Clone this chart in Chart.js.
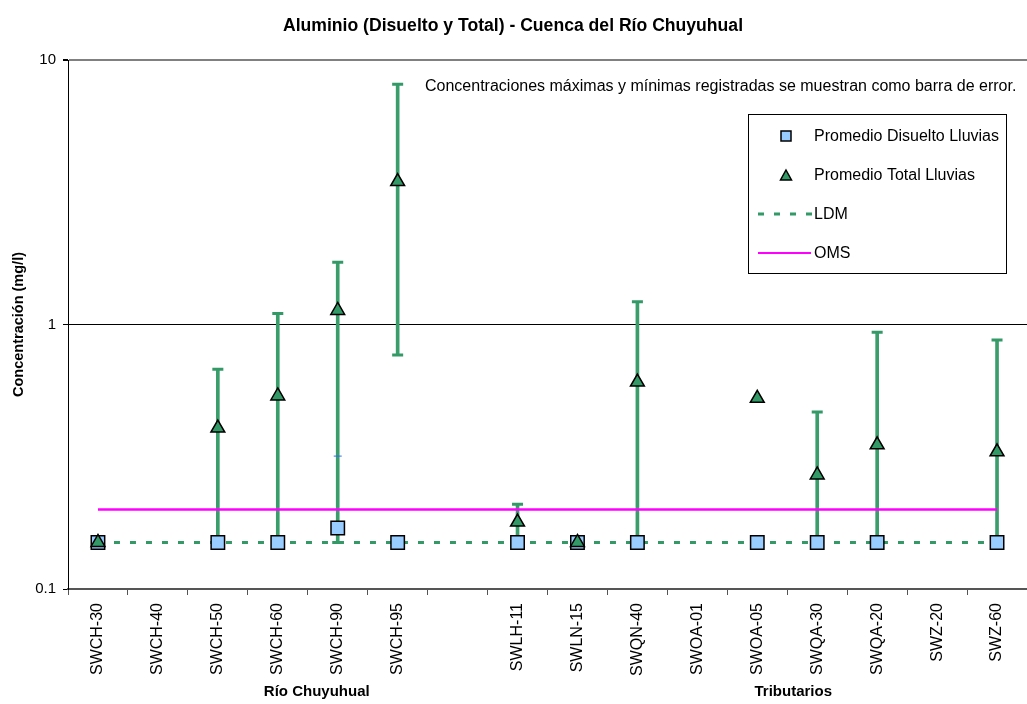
<!DOCTYPE html>
<html>
<head>
<meta charset="utf-8">
<script src="https://cdn.jsdelivr.net/npm/chart.js@4.4.0/dist/chart.umd.min.js"></script>
<style>
  html, body { margin: 0; padding: 0; background: #fff; }
  #wrap { width: 1027px; height: 704px; }
</style>
</head>
<body>
<div id="wrap"><canvas id="chart" width="1027" height="704"></canvas></div>
<script>
// stations (blank slot separates the two groups)
const categories = ['SWCH-30', 'SWCH-40', 'SWCH-50', 'SWCH-60', 'SWCH-90', 'SWCH-95', '',
    'SWLH-11', 'SWLN-15', 'SWQN-40', 'SWOA-01', 'SWOA-05', 'SWQA-30', 'SWQA-20', 'SWZ-20', 'SWZ-60'];
const dissolvedAvg = [0.15, null, 0.15, 0.15, 0.17, 0.15, null, 0.15, 0.15, 0.15, null, 0.15, 0.15, 0.15, null, 0.15];
const dissolvedMax = [null, null, null, null, 0.318, null, null, null, null, null, null, null, null, null, null, null];
const totalAvg = [0.15, null, 0.406, 0.537, 1.13, 3.47, null, 0.179, 0.15, 0.606, null, 0.526, 0.27, 0.351, null, 0.33];
const totalMax = [null, null, 0.677, 1.10, 1.72, 8.09, null, 0.209, null, 1.22, null, null, 0.467, 0.934, null, 0.874];
const totalMin = [null, null, 0.15, 0.15, 0.15, 0.767, null, 0.15, null, 0.15, null, null, 0.15, 0.15, null, 0.15];
const ldmLine = [0.15, 0.15];
const omsLine = [0.2, 0.2];
const yTicks = [0.1, 1, 10];

const FONT = "'Liberation Sans', Arial, sans-serif";
const GREEN = '#339966';
const BLUE = '#99ccff';

const ends = [categories[0], categories[categories.length - 1]];

// title, note, legend box and group names
const overlay = {
    id: 'overlay',
    afterDraw(chart) {
        const ctx = chart.ctx;
        const xs = chart.scales.x;
        ctx.save();
        ctx.fillStyle = '#000';
        ctx.textBaseline = 'middle';

        ctx.textAlign = 'center';
        ctx.font = 'bold 17.6px ' + FONT;
        ctx.fillText('Aluminio (Disuelto y Total) - Cuenca del Río Chuyuhual', 513, 26);

        ctx.font = 'bold 15px ' + FONT;
        ctx.fillText('Río Chuyuhual', xs.getPixelForValue(3.65), 692);
        ctx.fillText('Tributarios', xs.getPixelForValue(11.6), 692);

        ctx.textAlign = 'left';
        ctx.font = '16px ' + FONT;
        ctx.fillText('Concentraciones máximas y mínimas registradas se muestran como barra de error.', 425, 87);

        // legend
        ctx.fillStyle = '#fff';
        ctx.fillRect(748.5, 114.5, 258, 159);
        ctx.strokeStyle = '#000';
        ctx.lineWidth = 1;
        ctx.strokeRect(748.5, 114.5, 258, 159);

        ctx.fillStyle = BLUE;
        ctx.lineWidth = 1.5;
        ctx.fillRect(781, 131, 10, 10);
        ctx.strokeRect(781, 131, 10, 10);

        ctx.beginPath();
        ctx.moveTo(786, 170);
        ctx.lineTo(791.5, 180);
        ctx.lineTo(780.5, 180);
        ctx.closePath();
        ctx.fillStyle = GREEN;
        ctx.fill();
        ctx.stroke();

        ctx.beginPath();
        ctx.setLineDash([6, 10]);
        ctx.strokeStyle = GREEN;
        ctx.lineWidth = 3;
        ctx.moveTo(758, 214);
        ctx.lineTo(812, 214);
        ctx.stroke();
        ctx.setLineDash([]);

        ctx.beginPath();
        ctx.strokeStyle = '#ff00ff';
        ctx.lineWidth = 2;
        ctx.moveTo(758, 253);
        ctx.lineTo(811, 253);
        ctx.stroke();

        ctx.fillStyle = '#000';
        ctx.font = '16px ' + FONT;
        ctx.fillText('Promedio Disuelto Lluvias', 814, 137);
        ctx.fillText('Promedio Total Lluvias', 814, 176);
        ctx.fillText('LDM', 814, 215);
        ctx.fillText('OMS', 814, 254);
        ctx.restore();
    }
};

const chart = new Chart(document.getElementById('chart').getContext('2d'), {
    data: {
        labels: categories,
        datasets: [
            {
                type: 'line',
                label: 'Promedio Total Lluvias',
                data: totalAvg,
                showLine: false,
                pointStyle: 'triangle',
                pointRadius: 8,
                pointBackgroundColor: GREEN,
                pointBorderColor: '#000',
                pointBorderWidth: 1.5,
                order: 0
            },
            {
                type: 'line',
                label: 'Promedio Disuelto Lluvias',
                data: dissolvedAvg,
                showLine: false,
                pointStyle: 'rect',
                pointRadius: 9.5,
                pointBackgroundColor: BLUE,
                pointBorderColor: '#000',
                pointBorderWidth: 1.5,
                order: 1
            },
            {
                type: 'line',
                label: 'Disuelto máx',
                data: dissolvedMax,
                showLine: false,
                pointStyle: 'line',
                pointRadius: 4,
                pointBorderColor: '#3366ff',
                pointBorderWidth: 1,
                order: 2
            },
            {
                type: 'line',
                label: 'OMS',
                data: [{ x: ends[0], y: omsLine[0] }, { x: ends[1], y: omsLine[1] }],
                borderColor: '#ff00ff',
                borderWidth: 2.5,
                pointRadius: 0,
                order: 3
            },
            {
                type: 'line',
                label: 'Total máx',
                data: totalMax,
                showLine: false,
                pointStyle: 'line',
                pointRadius: 5.5,
                pointBorderColor: GREEN,
                pointBorderWidth: 3,
                order: 4
            },
            {
                type: 'line',
                label: 'Total mín',
                data: totalMin,
                showLine: false,
                pointStyle: 'line',
                pointRadius: 5.5,
                pointBorderColor: GREEN,
                pointBorderWidth: 3,
                order: 4
            },
            {
                type: 'bar',
                label: 'Rango Total',
                data: totalMin.map((lo, i) => lo == null ? null : [lo, totalMax[i]]),
                backgroundColor: '#3a9e6b',
                barThickness: 3,
                order: 5
            },
            {
                type: 'line',
                label: 'LDM',
                data: [{ x: ends[0], y: ldmLine[0] }, { x: ends[1], y: ldmLine[1] }],
                borderColor: GREEN,
                borderWidth: 3,
                borderDash: [6, 10],
                pointRadius: 0,
                order: 6
            }
        ]
    },
    options: {
        responsive: false,
        animation: false,
        events: [],
        layout: { autoPadding: false, padding: { top: 60, right: -1, bottom: 0, left: 0 } },
        plugins: {
            legend: { display: false },
            tooltip: { enabled: false },
            title: { display: false }
        },
        scales: {
            x: {
                type: 'category',
                offset: true,
                grid: {
                    display: true,
                    drawOnChartArea: false,
                    drawTicks: true,
                    tickLength: 6,
                    tickColor: '#555',
                    offset: true
                },
                border: { display: true, color: '#555', width: 2 },
                ticks: {
                    autoSkip: false,
                    minRotation: 90,
                    maxRotation: 90,
                    padding: 8,
                    color: '#000',
                    font: { family: FONT, size: 16 }
                },
                afterFit: s => {
                    s.height = 115;
                    s.paddingLeft = 0;
                    s.paddingRight = 0;
                }
            },
            y: {
                type: 'logarithmic',
                min: 0.1,
                max: 10,
                afterBuildTicks: s => { s.ticks = yTicks.map(v => ({ value: v })); },
                ticks: {
                    callback: v => String(v),
                    padding: 7,
                    color: '#000',
                    font: { family: FONT, size: 15 }
                },
                grid: {
                    color: c => (c.tick && c.tick.value === 10) ? '#808080' : '#000',
                    lineWidth: c => (c.tick && c.tick.value === 10) ? 2 : 1,
                    tickLength: 5,
                    tickColor: '#000'
                },
                border: { color: '#000', width: 1 },
                title: {
                    display: true,
                    text: 'Concentración (mg/l)',
                    color: '#000',
                    font: { family: FONT, size: 14.5, weight: 'bold' },
                    padding: { top: 10, bottom: 0 }
                },
                afterFit: s => {
                    s.width = 68;
                    s.paddingTop = 0;
                    s.paddingBottom = 0;
                }
            }
        }
    },
    plugins: [overlay]
});
</script>
</body>
</html>
